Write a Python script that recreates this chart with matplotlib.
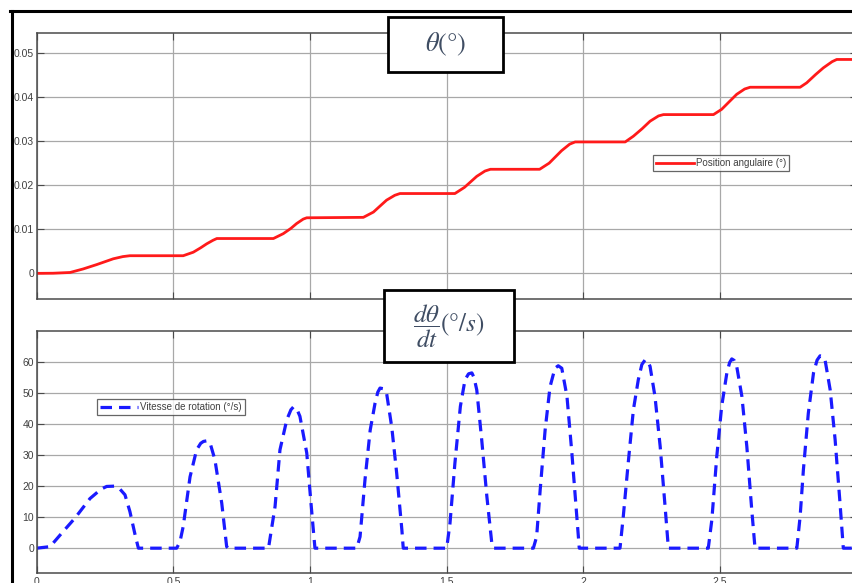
import matplotlib
matplotlib.use("Agg")
import matplotlib.pyplot as plt
from matplotlib.patches import Rectangle
from matplotlib.lines import Line2D

plt.rcParams['font.family'] = ['Liberation Sans', 'DejaVu Sans']
plt.rcParams['mathtext.fontset'] = 'stix'

# ---- data ----
t_pos = [0.0, 0.06, 0.122, 0.17, 0.22, 0.28, 0.315, 0.341, 0.536, 0.573, 0.60, 0.622, 0.645, 0.659,
         0.866, 0.902, 0.93, 0.951, 0.975, 0.988, 1.195, 1.232, 1.255, 1.28, 1.31, 1.329,
         1.53, 1.565, 1.61, 1.64, 1.66, 1.84, 1.875, 1.92, 1.95, 1.97,
         2.153, 2.183, 2.215, 2.244, 2.275, 2.293, 2.476, 2.506, 2.535, 2.561, 2.59, 2.61,
         2.793, 2.817, 2.85, 2.878, 2.91, 2.927, 3.0]
theta = [0.0, 0.00003, 0.0002, 0.001, 0.002, 0.0033, 0.0038, 0.004, 0.004, 0.0048, 0.0058, 0.0067, 0.0075, 0.0079,
         0.0079, 0.009, 0.0102, 0.0113, 0.0123, 0.0126, 0.0127, 0.0139, 0.0152, 0.0166, 0.0177, 0.0181,
         0.0181, 0.0195, 0.022, 0.0232, 0.0236, 0.0236, 0.025, 0.0278, 0.0293, 0.0298,
         0.0298, 0.0311, 0.0328, 0.0345, 0.0357, 0.036, 0.036, 0.0372, 0.039, 0.0406, 0.0418, 0.0422,
         0.0422, 0.0432, 0.0451, 0.0466, 0.048, 0.0485, 0.0485]

t_vel = [0.0, 0.049, 0.097, 0.14, 0.195, 0.235, 0.256, 0.286, 0.305, 0.323, 0.341, 0.36, 0.372,
         0.512, 0.524, 0.536, 0.561, 0.585, 0.60, 0.61, 0.622, 0.634, 0.652, 0.677, 0.695, 0.70,
         0.848, 0.872, 0.89, 0.915, 0.93, 0.939, 0.951, 0.963, 0.988, 1.003, 1.012, 1.018,
         1.171, 1.183, 1.201, 1.22, 1.238, 1.248, 1.256, 1.268, 1.28, 1.299, 1.317, 1.336, 1.341,
         1.50, 1.512, 1.53, 1.55, 1.567, 1.58, 1.592, 1.60, 1.61, 1.628, 1.647, 1.665, 1.672,
         1.817, 1.829, 1.842, 1.86, 1.878, 1.896, 1.908, 1.921, 1.94, 1.958, 1.976, 1.985,
         2.134, 2.146, 2.164, 2.183, 2.201, 2.214, 2.226, 2.235, 2.244, 2.262, 2.281, 2.299, 2.311,
         2.457, 2.47, 2.488, 2.506, 2.525, 2.535, 2.543, 2.552, 2.561, 2.58, 2.598, 2.616, 2.628,
         2.781, 2.793, 2.805, 2.823, 2.842, 2.855, 2.866, 2.875, 2.884, 2.903, 2.921, 2.939, 2.951, 3.0]
omega = [0.0, 0.5, 5.4, 9.7, 16.0, 19.0, 19.9, 20.0, 19.0, 17.2, 11.8, 4.3, 0.0,
         0.0, 2.0, 7.0, 23.0, 31.7, 33.8, 34.4, 34.6, 34.0, 28.5, 14.5, 0.5, 0.0,
         0.0, 13.4, 31.7, 41.4, 44.6, 45.5, 45.0, 42.5, 30.7, 15.0, 5.9, 0.0,
         0.0, 3.7, 22.0, 38.0, 46.8, 50.3, 51.6, 51.4, 50.0, 39.0, 24.2, 5.9, 0.0,
         0.0, 8.0, 27.4, 45.7, 54.3, 56.2, 56.5, 55.0, 51.0, 35.0, 16.6, 1.6, 0.0,
         0.0, 3.7, 18.8, 38.0, 52.0, 58.0, 58.8, 58.0, 48.9, 30.6, 10.2, 0.0,
         0.0, 10.2, 27.4, 44.6, 54.3, 59.2, 60.7, 60.3, 58.6, 48.9, 32.8, 13.4, 0.0,
         0.0, 9.1, 29.5, 45.7, 56.5, 59.8, 61.0, 60.5, 58.6, 48.9, 32.8, 12.4, 0.0,
         0.0, 10.2, 25.3, 43.5, 56.5, 60.6, 62.0, 61.8, 60.8, 51.0, 35.0, 14.5, 0.0, 0.0]

x_ticks = [0, 0.5, 1, 1.5, 2, 2.5, 3]
x_ticklabels = ['0', '0.5', '1', '1.5', '2', '2.5', '3']
y1_ticks = [0, 0.01, 0.02, 0.03, 0.04, 0.05]
y1_ticklabels = ['0', '0.01', '0.02', '0.03', '0.04', '0.05']
y2_ticks = [0, 10, 20, 30, 40, 50, 60]
y2_ticklabels = ['0', '10', '20', '30', '40', '50', '60']

label_pos = 'Position angulaire (°)'
label_vel = 'Vitesse de rotation (°/s)'
title_pos = r'$\theta(\degree)$'
title_vel = r'$\dfrac{d\theta}{dt}(\degree/s)$'

# ---- figure ----
W, H = 852, 583
fig = plt.figure(figsize=(W / 100, H / 100), dpi=100)
fig.patch.set_facecolor('white')

def fx(px):
    return px / W

def fy(py):
    return 1 - py / H

ax_left = 36.7
ax_w = 820.0
ax1 = fig.add_axes([fx(ax_left), fy(298.5), ax_w / W, 265.5 / H])
ax2 = fig.add_axes([fx(ax_left), fy(573), ax_w / W, 242.0 / H])

grid_col = '#a8a8a8'
spine_col = '#4a4a4a'
tick_col = '#404040'

for ax in (ax1, ax2):
    ax.set_xlim(0, 3)
    ax.set_xticks(x_ticks)
    ax.grid(True, color=grid_col, lw=0.9)
    ax.set_axisbelow(True)
    for s in ax.spines.values():
        s.set_color(spine_col)
        s.set_linewidth(1.1)
    ax.tick_params(direction='in', length=5, width=0.8, top=True, right=True,
                   colors=spine_col, labelcolor=tick_col, labelsize=7.5, pad=2)

ax1.set_ylim(-0.0057, 0.0545)
ax1.set_yticks(y1_ticks)
ax1.set_yticklabels(y1_ticklabels)
ax1.set_xticklabels([])
ax1.plot(t_pos, theta, color='#ff1a1a', lw=2.0, label=label_pos, solid_joinstyle='round')

ax2.set_ylim(-8, 70)
ax2.set_yticks(y2_ticks)
ax2.set_yticklabels(y2_ticklabels)
ax2.set_xticklabels(x_ticklabels)
ax2.tick_params(axis='x', pad=3)
ax2.plot(t_vel, omega, color='#1a1aff', lw=2.3, ls=(0, (3.6, 2.2)), label=label_vel)

leg_kw = dict(fontsize=7.0, frameon=True, fancybox=False, borderpad=0.3,
              handlelength=3.9, handletextpad=0.2, borderaxespad=0, labelcolor='#404040')
l1 = ax1.legend(loc='upper left', bbox_to_anchor=(fx(653), fy(155.5)),
                bbox_transform=fig.transFigure, **leg_kw)
l2 = ax2.legend(loc='upper left', bbox_to_anchor=(fx(97.3), fy(399)),
                bbox_transform=fig.transFigure, **leg_kw)
for lg in (l1, l2):
    lg.get_frame().set_edgecolor('#404040')
    lg.get_frame().set_linewidth(0.9)

# outer black frame
fig.add_artist(Line2D([fx(11.5), fx(11.5)], [fy(11), fy(583)], color='black', lw=2.2,
                      transform=fig.transFigure))
fig.add_artist(Line2D([fx(10.4), fx(852)], [fy(11), fy(11)], color='black', lw=2.2,
                      transform=fig.transFigure))

# title boxes
def title_box(x0, y0, x1, y1, text, size, dy=0.0):
    r = Rectangle((fx(x0), fy(y1)), fx(x1) - fx(x0), fy(y0) - fy(y1), transform=fig.transFigure,
                  facecolor='white', edgecolor='black', lw=2.0, zorder=10)
    fig.add_artist(r)
    t = fig.text((fx(x0) + fx(x1)) / 2, (fy(y0) + fy(y1)) / 2 + dy / H, text, ha='center', va='center',
                 fontsize=size, color='#3f4d63', zorder=11)
    return t

title_box(388, 17, 503, 72, title_pos, 19)
title_box(383.5, 290, 513.5, 361.5, title_vel, 18)

fig.savefig('out.png', dpi=100)
